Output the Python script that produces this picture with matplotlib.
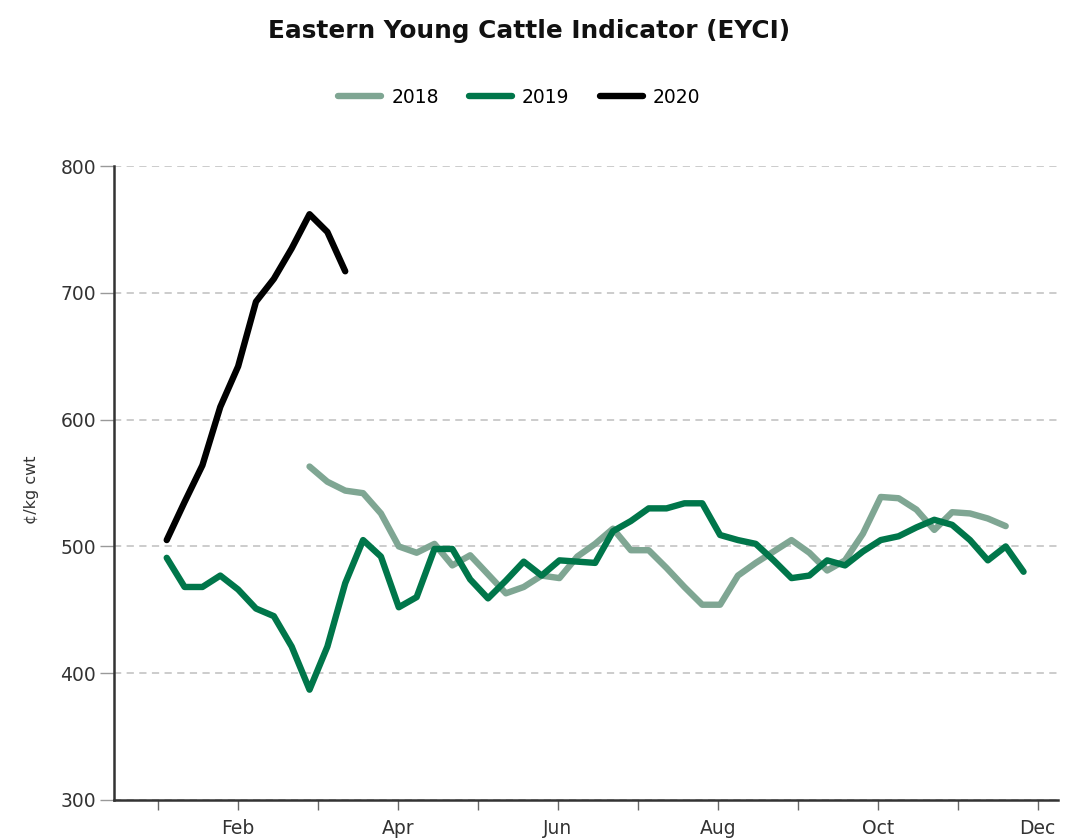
import matplotlib
matplotlib.use("Agg")
import matplotlib.pyplot as plt

plt.rcParams['font.family'] = ['DejaVu Sans']

# weekly observations, x = week index from first week of the year
WEEKS_2019 = list(range(0, 49))
VALUES_2019 = [491, 468, 468, 477, 466, 451, 445, 421, 387, 421,
               471, 505, 492, 452, 460, 498, 498, 474, 459, 473,
               488, 477, 489, 488, 487, 512, 520, 530, 530, 534,
               534, 509, 505, 502, 489, 475, 477, 489, 485, 496,
               505, 508, 515, 521, 517, 505, 489, 500, 480]

WEEKS_2018 = list(range(8, 48))
VALUES_2018 = [563, 551, 544, 542, 526, 500, 495, 502, 485, 493,
               478, 463, 468, 477, 475, 492, 502, 514, 497, 497,
               483, 468, 454, 454, 477, 487, 496, 505, 495, 481,
               489, 510, 539, 538, 529, 513, 527, 526, 522, 516]

WEEKS_2020 = list(range(0, 11))
VALUES_2020 = [505, 535, 564, 610, 642, 693, 711, 735, 762, 748, 717]

MONTH_LABELS = ["", "Feb", "", "Apr", "", "Jun", "", "Aug", "", "Oct", "", "Dec"]

fig = plt.figure(figsize=(10.66, 8.39), dpi=100)
ax = fig.add_axes([0.107, 0.0465, 0.8855, 0.7556])

ax.plot(WEEKS_2018, VALUES_2018, color="#7fa693", lw=4.6, label="2018",
        solid_joinstyle="round", solid_capstyle="round")
ax.plot(WEEKS_2019, VALUES_2019, color="#00764a", lw=4.6, label="2019",
        solid_joinstyle="round", solid_capstyle="round")
ax.plot(WEEKS_2020, VALUES_2020, color="#000000", lw=4.6, label="2020",
        solid_joinstyle="round", solid_capstyle="round")

ax.set_ylim(300, 800)
ax.set_xlim(-2.95, 49.93)
ax.set_yticks([300, 400, 500, 600, 700, 800])
# month ticks spaced evenly along the week axis
month_ticks = [-0.49 + 4.48 * k for k in range(12)]
ax.set_xticks(month_ticks)
ax.set_xticklabels(MONTH_LABELS)

ax.yaxis.grid(True, linestyle=(0, (4, 3)), color="#c8c8c8", lw=1.3)
ax.set_axisbelow(True)
for s in ["top", "right"]:
    ax.spines[s].set_visible(False)
for s in ["left", "bottom"]:
    ax.spines[s].set_color("#333333")
    ax.spines[s].set_linewidth(1.8)

ax.tick_params(axis="y", length=10, width=1, color="#999999", labelsize=13.5,
               labelcolor="#333333", pad=3)
ax.tick_params(axis="x", length=7, width=1, color="#666666", labelsize=13.5,
               labelcolor="#333333", pad=7)

ax.set_ylabel("¢/kg cwt", fontsize=11.5, color="#333333")
ax.yaxis.set_label_coords(-0.08, 0.49)

fig.text(0.496, 0.963, "Eastern Young Cattle Indicator (EYCI)",
         ha="center", va="center", fontsize=17.8, fontweight="bold", color="#111111")

fig.legend(loc="center", bbox_to_anchor=(0.487, 0.884), ncol=3, frameon=False,
           fontsize=13.5, handlelength=2.3, columnspacing=1.6, handletextpad=0.55)

fig.savefig("out.png", dpi=100)
